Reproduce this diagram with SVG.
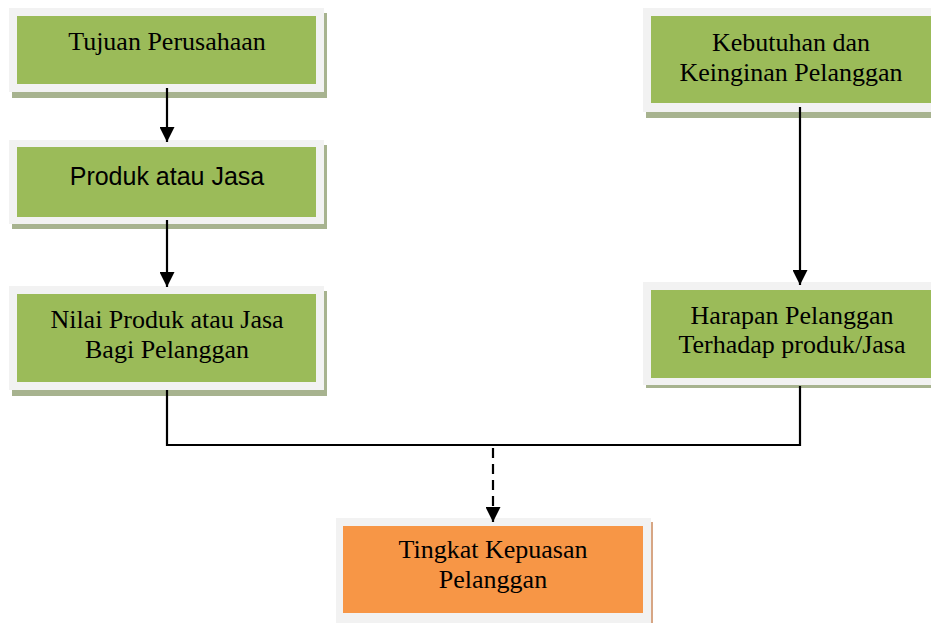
<svg xmlns="http://www.w3.org/2000/svg" width="931" height="623" viewBox="0 0 931 623">
<style>
.frame{fill:#f2f2f2}
.shadow{fill:#a7b38f}
.shadowo{fill:#d7a684}
.green{fill:#9bbb59}
.orange{fill:#f79646}
.t{font-family:"Liberation Serif","Times New Roman",serif;font-size:26px;fill:#000;text-anchor:middle}
.s{font-family:"Liberation Sans",Arial,sans-serif;font-size:25px;fill:#000;text-anchor:middle}
.ln{stroke:#000;stroke-width:2.2;fill:none}
</style>
<defs>
<marker id="ah" markerUnits="userSpaceOnUse" markerWidth="16" markerHeight="15" refX="15" refY="7.5" orient="auto">
<path d="M0,0 L15,7.5 L0,15 Z" fill="#000"/>
</marker>
</defs>
<rect width="931" height="623" fill="#fff"/>
<g id="n1">
<rect class="shadow" x="12" y="13" width="315" height="85"/>
<rect class="frame" x="9" y="8" width="315" height="84"/>
<rect class="green" x="17" y="16" width="299" height="68"/>
<text class="t" x="167" y="50">Tujuan Perusahaan</text>
</g>
<g id="n2">
<rect class="shadow" x="12" y="145" width="315" height="84"/>
<rect class="frame" x="9" y="140" width="315" height="84"/>
<rect class="green" x="17" y="147" width="299" height="70"/>
<text class="s" x="167" y="185">Produk atau Jasa</text>
</g>
<g id="n3">
<rect class="shadow" x="12" y="291" width="315" height="105"/>
<rect class="frame" x="9" y="286" width="315" height="104"/>
<rect class="green" x="17" y="294" width="299" height="88"/>
<text class="t" x="167" y="328">Nilai Produk atau Jasa</text>
<text class="t" x="167" y="358">Bagi Pelanggan</text>
</g>
<g id="n4">
<rect class="shadow" x="646" y="13" width="300" height="105"/>
<rect class="frame" x="643" y="8" width="300" height="104"/>
<rect class="green" x="651" y="16" width="290" height="87"/>
<text class="t" x="791" y="51">Kebutuhan dan</text>
<text class="t" x="791" y="81">Keinginan Pelanggan</text>
</g>
<g id="n5">
<rect class="shadow" x="646" y="287" width="300" height="101"/>
<rect class="frame" x="643" y="282" width="300" height="103"/>
<rect class="green" x="651" y="290" width="290" height="88"/>
<text class="t" x="792" y="324">Harapan Pelanggan</text>
<text class="t" x="792" y="353">Terhadap produk/Jasa</text>
</g>
<g id="n6">
<rect class="shadowo" x="339" y="522" width="314" height="101"/>
<rect class="frame" x="336" y="518" width="315" height="105"/>
<rect class="orange" x="343" y="526" width="300" height="87"/>
<text class="t" x="493" y="558">Tingkat Kepuasan</text>
<text class="t" x="493" y="588">Pelanggan</text>
</g>
<g id="connectors">
<line class="ln" x1="167" y1="88" x2="167" y2="142" marker-end="url(#ah)"/>
<line class="ln" x1="167" y1="220" x2="167" y2="287" marker-end="url(#ah)"/>
<line class="ln" x1="800" y1="107" x2="800" y2="285" marker-end="url(#ah)"/>
<polyline class="ln" points="167,390 167,445 800,445 800,386"/>
<line class="ln" x1="493" y1="448" x2="493" y2="522" stroke-dasharray="10,6" marker-end="url(#ah)"/>
</g>
</svg>
